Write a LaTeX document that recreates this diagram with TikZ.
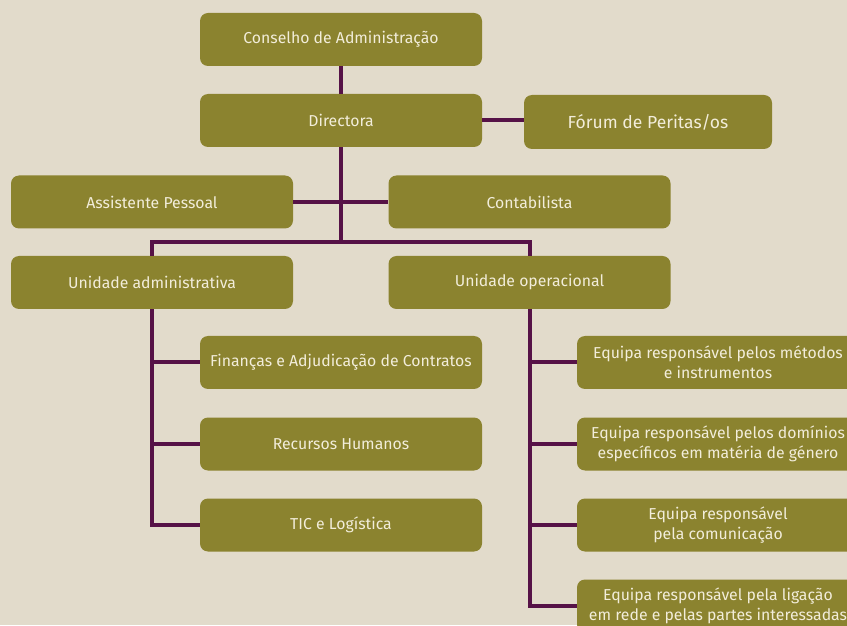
\documentclass[tikz,border=0pt]{standalone}
\usepackage{fontspec}
\setmainfont{Fira Sans}
\definecolor{olive}{HTML}{8B832F}
\definecolor{plum}{HTML}{561247}
\definecolor{paper}{HTML}{E2DBCB}
\definecolor{cream}{HTML}{F2EDDA}
\begin{document}
\begin{tikzpicture}[x=1pt,y=1pt]
    \tikzstyle{unitbox} = [fill=olive, rounded corners=8pt, minimum width=282pt, minimum height=53pt, text=cream, align=center, font=\fontsize{15.8}{20}\selectfont, inner sep=2pt]
    \tikzstyle{link} = [plum, line width=4pt]
    % Background
    \fill [paper] (0,0) rectangle (847,625);
    \useasboundingbox (0,0) rectangle (847,625);

    % Top level
    \node [unitbox] (Board) at (341,585.5) {Conselho de Administração};
    \node [unitbox] (Director) at (341,504.5) {Directora};
    \node [unitbox, minimum width=248pt, minimum height=54pt, font=\fontsize{17.5}{21}\selectfont] (Experts) at (648,503) {Fórum de Peritas/os};
    \draw [link] (Board) -- (Director);
    \draw [link] (Director.east) -- (Director.east -| Experts.west);

    % Staff
    \node [unitbox] (Assistant) at (152,423) {Assistente Pessoal};
    \node [unitbox] (Accountant) at (529.5,423) {Contabilista};
    \draw [link] (Assistant) -- (Accountant);

    % Units
    \node [unitbox] (AdminUnit) at (152,342.5) {Unidade administrativa};
    \node [unitbox] (OperUnit) at (529.5,342.5) {Unidade operacional};
    \coordinate (Split) at (341,383);
    \draw [link] (Director) -- (Split);
    \draw [link] (AdminUnit.north) -- (AdminUnit.north |- Split) -- (OperUnit.north |- Split) -- (OperUnit.north);

    % Administrative unit
    \node [unitbox] (Finance) at (341,262.5) {Finanças e Adjudicação de Contratos};
    \node [unitbox] (HR) at (341,181) {Recursos Humanos};
    \node [unitbox] (ICT) at (341,100) {TIC e Logística};
    \draw [link] (AdminUnit.south) -- (AdminUnit.south |- ICT.west) -- (ICT.west);
    \draw [link] (AdminUnit.south |- Finance.west) -- (Finance.west);
    \draw [link] (AdminUnit.south |- HR.west) -- (HR.west);

    % Operational unit
    \node [unitbox] (Methods) at (718,262.5) {Equipa responsável pelos métodos\\e instrumentos};
    \node [unitbox] (Gender) at (718,181) {Equipa responsável pelos domínios\\específicos em matéria de género};
    \node [unitbox] (Comms) at (718,100) {Equipa responsável\\pela comunicação};
    \node [unitbox] (Network) at (718,19) {Equipa responsável pela ligação\\em rede e pelas partes interessadas};
    \draw [link] (OperUnit.south) -- (OperUnit.south |- Network.west) -- (Network.west);
    \draw [link] (OperUnit.south |- Methods.west) -- (Methods.west);
    \draw [link] (OperUnit.south |- Gender.west) -- (Gender.west);
    \draw [link] (OperUnit.south |- Comms.west) -- (Comms.west);
\end{tikzpicture}
\end{document}
